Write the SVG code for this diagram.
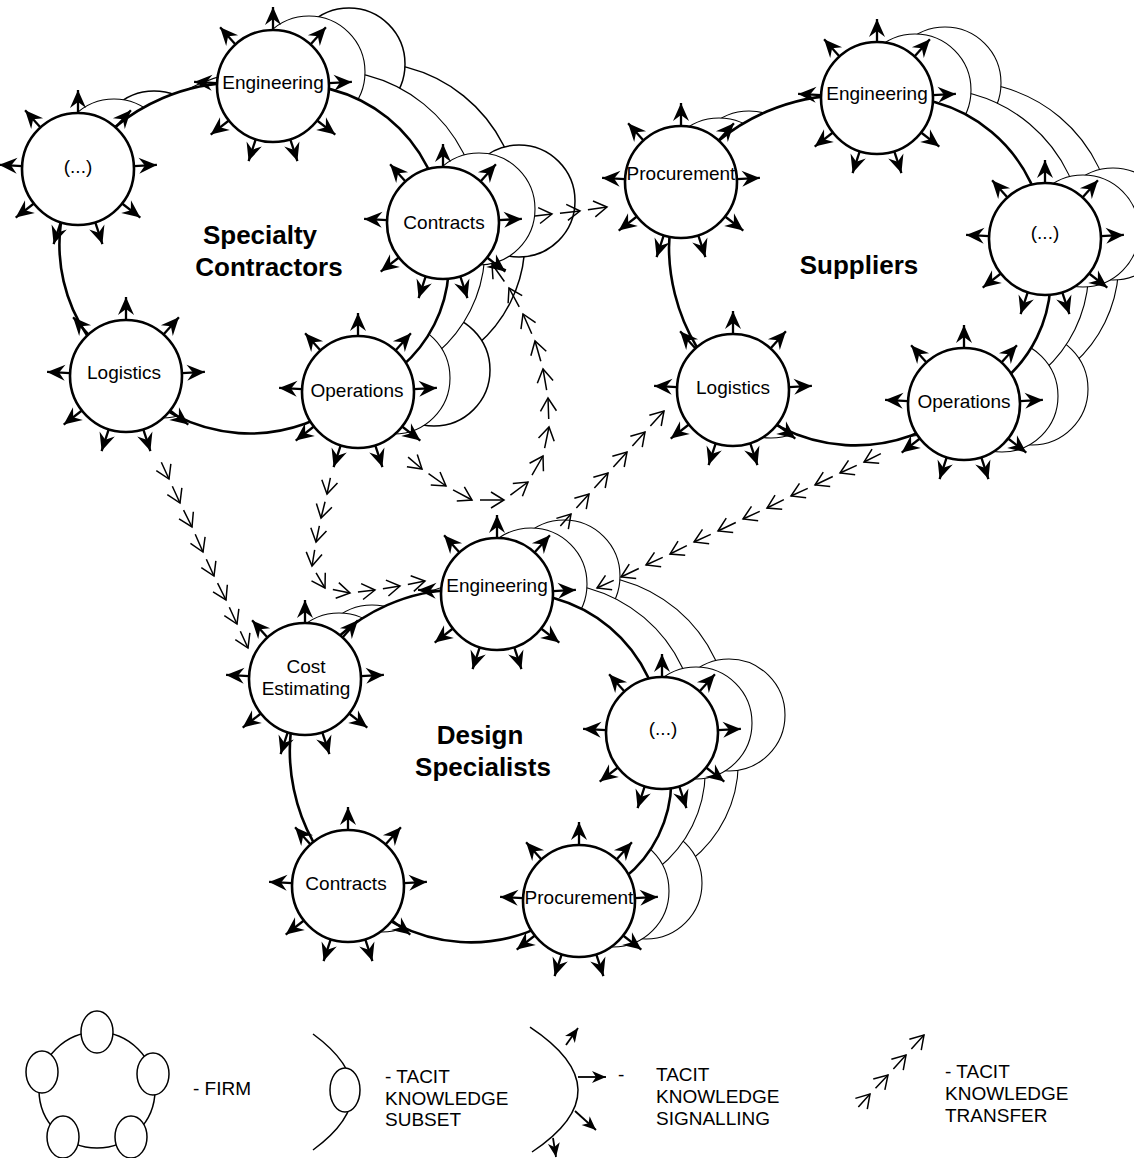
<svg xmlns="http://www.w3.org/2000/svg" width="1134" height="1158" viewBox="0 0 1134 1158">
<style>
.firm{fill:#fff;stroke:#000;stroke-width:2.6}
.node{fill:#fff;stroke:#000;stroke-width:2.6}
.sh{fill:#fff;stroke:#000;stroke-width:1.1}
.sh2{fill:#fff;stroke:#000;stroke-width:1.5}
#ring line{stroke:#000;stroke-width:2.3;marker-end:url(#ah)}
.lbl{font-family:"Liberation Sans",Arial,sans-serif;font-size:19px;text-anchor:middle;fill:#000}
.flbl{font-family:"Liberation Sans",Arial,sans-serif;font-size:26px;font-weight:bold;text-anchor:middle;fill:#000}
.tr line,line.tr{stroke:#000;stroke-width:1.5;stroke-dasharray:0 8 400;fill:none;marker-end:url(#chev)}
.leg{font-family:"Liberation Sans",Arial,sans-serif;font-size:19px;fill:#000}
.thin{fill:none;stroke:#000;stroke-width:1.5}
.sig2{stroke:#000;stroke-width:1.8;marker-end:url(#ah2)}
</style>
<defs>
<marker id="ah" markerUnits="userSpaceOnUse" markerWidth="19" markerHeight="17" refX="18" refY="8" orient="auto" overflow="visible"><path d="M0,0 L18,8 L0,16 L6,8 Z" fill="#000"/></marker>
<marker id="ah2" markerUnits="userSpaceOnUse" markerWidth="15" markerHeight="13" refX="14" refY="6" orient="auto" overflow="visible"><path d="M0,0 L14,6 L0,12 L4,6 Z" fill="#000"/></marker>
<marker id="chev" markerUnits="userSpaceOnUse" markerWidth="15" markerHeight="17" refX="13" refY="8" orient="auto" overflow="visible"><path d="M0,0 L13,8 L0,16" fill="none" stroke="#000" stroke-width="1.5"/></marker>
<g id="ring">
<line x1="0" y1="-56" x2="0" y2="-79"/>
<line x1="37.5" y1="-41.6" x2="52.9" y2="-58.7"/>
<line x1="55.9" y1="-2.9" x2="78.9" y2="-4.1"/>
<line x1="44.1" y1="34.5" x2="62.3" y2="48.6"/>
<line x1="17.3" y1="53.3" x2="24.4" y2="75.1"/>
<line x1="-17.3" y1="53.3" x2="-24.4" y2="75.1"/>
<line x1="-44.1" y1="34.5" x2="-62.3" y2="48.6"/>
<line x1="-55.9" y1="-2.9" x2="-78.9" y2="-4.1"/>
<line x1="-37.5" y1="-41.6" x2="-52.9" y2="-58.7"/>
</g>
<g id="sc-shape">
<path d="M273,86 A150,150 0 0 1 443,223 A137,137 0 0 1 358,392 A162,162 0 0 1 126,376 A163,163 0 0 1 78,169 A191,191 0 0 1 273,86 Z"/>
<circle cx="273" cy="86" r="56"/><circle cx="78" cy="169" r="56"/><circle cx="443" cy="223" r="56"/><circle cx="126" cy="376" r="56"/><circle cx="358" cy="392" r="56"/>
</g>
<g id="sup-shape">
<path d="M877,98 A150,150 0 0 1 1045,239 A135,135 0 0 1 964,404 A163,163 0 0 1 733,390 A190,190 0 0 1 681,182 A199,199 0 0 1 877,98 Z"/>
<circle cx="877" cy="98" r="56"/><circle cx="681" cy="182" r="56"/><circle cx="1045" cy="239" r="56"/><circle cx="733" cy="390" r="56"/><circle cx="964" cy="404" r="56"/>
</g>
<g id="ds-shape">
<path d="M497,594 A147,147 0 0 1 662,733 A125,125 0 0 1 579,901 A162,162 0 0 1 348,886 A184,184 0 0 1 305,679 A178,178 0 0 1 497,594 Z"/>
<circle cx="497" cy="594" r="56"/><circle cx="305" cy="679" r="56"/><circle cx="662" cy="733" r="56"/><circle cx="348" cy="886" r="56"/><circle cx="579" cy="901" r="56"/>
</g>
</defs>
<rect width="1134" height="1158" fill="#fff"/>

<!-- Specialty Contractors -->
<g id="firm-specialty-contractors">
<use href="#sc-shape" class="sh2" transform="translate(76,-22)"/>
<use href="#sc-shape" class="sh" transform="translate(36,-14)"/>
<path class="firm" d="M273,86 A150,150 0 0 1 443,223 A137,137 0 0 1 358,392 A162,162 0 0 1 126,376 A163,163 0 0 1 78,169 A191,191 0 0 1 273,86 Z"/>
<text class="flbl" x="260" y="244">Specialty</text>
<text class="flbl" x="269" y="276">Contractors</text>
</g>
<g id="sc-engineering"><circle class="node" cx="273" cy="86" r="56"/><use href="#ring" x="273" y="86"/><text class="lbl" x="273" y="89">Engineering</text></g>
<g id="sc-etc"><circle class="node" cx="78" cy="169" r="56"/><use href="#ring" x="78" y="169"/><text class="lbl" x="78" y="173">(...)</text></g>
<g id="sc-contracts"><circle class="node" cx="443" cy="223" r="56"/><use href="#ring" x="443" y="223"/><text class="lbl" x="444" y="229">Contracts</text></g>
<g id="sc-logistics"><circle class="node" cx="126" cy="376" r="56"/><use href="#ring" x="126" y="376"/><text class="lbl" x="124" y="379">Logistics</text></g>
<g id="sc-operations"><circle class="node" cx="358" cy="392" r="56"/><use href="#ring" x="358" y="392"/><text class="lbl" x="357" y="397">Operations</text></g>

<!-- Suppliers -->
<g id="firm-suppliers">
<use href="#sup-shape" class="sh" transform="translate(68,-15)"/>
<use href="#sup-shape" class="sh" transform="translate(38,-8)"/>
<path class="firm" d="M877,98 A150,150 0 0 1 1045,239 A135,135 0 0 1 964,404 A163,163 0 0 1 733,390 A190,190 0 0 1 681,182 A199,199 0 0 1 877,98 Z"/>
<text class="flbl" x="859" y="274">Suppliers</text>
</g>
<g id="sup-engineering"><circle class="node" cx="877" cy="98" r="56"/><use href="#ring" x="877" y="98"/><text class="lbl" x="877" y="100">Engineering</text></g>
<g id="sup-procurement"><circle class="node" cx="681" cy="182" r="56"/><use href="#ring" x="681" y="182"/><text class="lbl" x="681" y="180">Procurement</text></g>
<g id="sup-etc"><circle class="node" cx="1045" cy="239" r="56"/><use href="#ring" x="1045" y="239"/><text class="lbl" x="1045" y="239">(...)</text></g>
<g id="sup-logistics"><circle class="node" cx="733" cy="390" r="56"/><use href="#ring" x="733" y="390"/><text class="lbl" x="733" y="394">Logistics</text></g>
<g id="sup-operations"><circle class="node" cx="964" cy="404" r="56"/><use href="#ring" x="964" y="404"/><text class="lbl" x="964" y="408">Operations</text></g>

<!-- Design Specialists -->
<g id="firm-design-specialists">
<use href="#ds-shape" class="sh" transform="translate(67,-18)"/>
<use href="#ds-shape" class="sh" transform="translate(34,-10)"/>
<path class="firm" d="M497,594 A147,147 0 0 1 662,733 A125,125 0 0 1 579,901 A162,162 0 0 1 348,886 A184,184 0 0 1 305,679 A178,178 0 0 1 497,594 Z"/>
<text class="flbl" x="480" y="744">Design</text>
<text class="flbl" x="483" y="776">Specialists</text>
</g>
<g id="ds-engineering"><circle class="node" cx="497" cy="594" r="56"/><use href="#ring" x="497" y="594"/><text class="lbl" x="497" y="592">Engineering</text></g>
<g id="ds-cost-estimating"><circle class="node" cx="305" cy="679" r="56"/><use href="#ring" x="305" y="679"/><text class="lbl" x="306" y="673">Cost</text><text class="lbl" x="306" y="695">Estimating</text></g>
<g id="ds-etc"><circle class="node" cx="662" cy="733" r="56"/><use href="#ring" x="662" y="733"/><text class="lbl" x="663" y="735">(...)</text></g>
<g id="ds-contracts"><circle class="node" cx="348" cy="886" r="56"/><use href="#ring" x="348" y="886"/><text class="lbl" x="346" y="890">Contracts</text></g>
<g id="ds-procurement"><circle class="node" cx="579" cy="901" r="56"/><use href="#ring" x="579" y="901"/><text class="lbl" x="579" y="904">Procurement</text></g>

<!-- Tacit knowledge transfer connectors -->
<g id="connectors" class="tr">
<line x1="158" y1="455" x2="169" y2="479"/><line x1="169" y1="479" x2="180" y2="503"/><line x1="180" y1="503" x2="192" y2="527"/><line x1="192" y1="527" x2="203" y2="552"/><line x1="203" y1="552" x2="214" y2="576"/><line x1="214" y1="576" x2="226" y2="600"/><line x1="226" y1="600" x2="237" y2="624"/><line x1="237" y1="624" x2="248" y2="648"/>
<line x1="332" y1="470" x2="327" y2="494"/><line x1="327" y1="494" x2="321" y2="518"/><line x1="321" y1="518" x2="316" y2="542"/><line x1="316" y1="542" x2="312" y2="566"/><line x1="312" y1="566" x2="325" y2="588"/><line x1="325" y1="588" x2="350" y2="593"/><line x1="350" y1="593" x2="375" y2="590"/><line x1="375" y1="590" x2="400" y2="586"/><line x1="400" y1="586" x2="425" y2="581"/>
<line x1="402" y1="452" x2="422" y2="469"/><line x1="422" y1="469" x2="446" y2="486"/><line x1="446" y1="486" x2="472" y2="500"/><line x1="472" y1="500" x2="504" y2="500"/><line x1="504" y1="500" x2="528" y2="482"/><line x1="528" y1="482" x2="543" y2="456"/><line x1="543" y1="456" x2="549" y2="427"/><line x1="549" y1="427" x2="548" y2="398"/><line x1="548" y1="398" x2="543" y2="369"/><line x1="543" y1="369" x2="535" y2="341"/><line x1="535" y1="341" x2="523" y2="314"/><line x1="523" y1="314" x2="509" y2="288"/><line x1="509" y1="288" x2="492" y2="264"/>
<line x1="527" y1="217" x2="552" y2="214"/><line x1="552" y1="214" x2="580" y2="211"/><line x1="580" y1="211" x2="607" y2="207"/>
<line x1="555" y1="532" x2="571" y2="514"/><line x1="571" y1="514" x2="589" y2="494"/><line x1="589" y1="494" x2="608" y2="473"/><line x1="608" y1="473" x2="627" y2="452"/><line x1="627" y1="452" x2="645" y2="432"/><line x1="645" y1="432" x2="664" y2="411"/>
<line x1="888" y1="450" x2="864" y2="462"/><line x1="864" y1="462" x2="840" y2="473"/><line x1="840" y1="473" x2="815" y2="485"/><line x1="815" y1="485" x2="791" y2="496"/><line x1="791" y1="496" x2="767" y2="508"/><line x1="767" y1="508" x2="743" y2="519"/><line x1="743" y1="519" x2="718" y2="531"/><line x1="718" y1="531" x2="694" y2="542"/><line x1="694" y1="542" x2="670" y2="554"/><line x1="670" y1="554" x2="646" y2="565"/><line x1="646" y1="565" x2="621" y2="577"/><line x1="621" y1="577" x2="597" y2="588"/>
</g>

<!-- Legend -->
<g id="legend-firm">
<circle cx="97" cy="1090" r="58" class="thin"/>
<ellipse cx="97" cy="1032" rx="16" ry="21" fill="#fff" stroke="#000" stroke-width="1.5"/>
<ellipse cx="42" cy="1072" rx="16" ry="21" fill="#fff" stroke="#000" stroke-width="1.5"/>
<ellipse cx="153" cy="1074" rx="16" ry="21" fill="#fff" stroke="#000" stroke-width="1.5"/>
<ellipse cx="63" cy="1137" rx="16" ry="21" fill="#fff" stroke="#000" stroke-width="1.5"/>
<ellipse cx="131" cy="1137" rx="16" ry="21" fill="#fff" stroke="#000" stroke-width="1.5"/>
<text class="leg" x="193" y="1095">- FIRM</text>
</g>
<g id="legend-subset">
<path class="thin" d="M313,1034 Q392,1092 313,1150"/>
<ellipse cx="345" cy="1090" rx="15" ry="22" fill="#fff" stroke="#000" stroke-width="1.5"/>
<text class="leg" x="385" y="1083">- TACIT</text>
<text class="leg" x="385" y="1105">KNOWLEDGE</text>
<text class="leg" x="385" y="1126">SUBSET</text>
</g>
<g id="legend-signalling">
<path class="thin" d="M530,1027 Q625,1090 532,1152"/>
<line class="sig2" x1="566" y1="1045" x2="578" y2="1028"/>
<line class="sig2" x1="578" y1="1077" x2="606" y2="1077"/>
<line class="sig2" x1="575" y1="1111" x2="596" y2="1130"/>
<line class="sig2" x1="553" y1="1138" x2="556" y2="1157"/>
<text class="leg" x="618" y="1081">-</text>
<text class="leg" x="656" y="1081">TACIT</text>
<text class="leg" x="656" y="1103">KNOWLEDGE</text>
<text class="leg" x="656" y="1125">SIGNALLING</text>
</g>
<g id="legend-transfer">
<g class="tr">
<line x1="853" y1="1113" x2="870" y2="1094"/><line x1="870" y1="1094" x2="888" y2="1075"/><line x1="888" y1="1075" x2="906" y2="1055"/><line x1="906" y1="1055" x2="924" y2="1035"/>
</g>
<text class="leg" x="945" y="1078">- TACIT</text>
<text class="leg" x="945" y="1100">KNOWLEDGE</text>
<text class="leg" x="945" y="1122">TRANSFER</text>
</g>
</svg>
